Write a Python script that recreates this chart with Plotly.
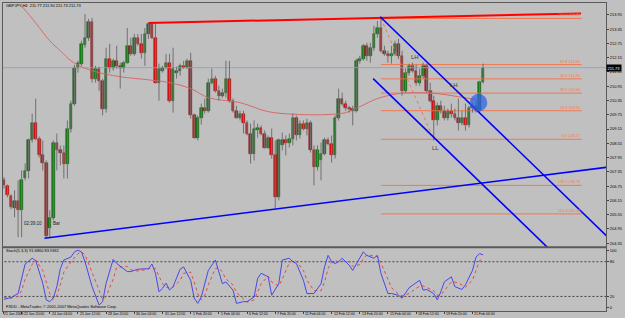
import plotly.graph_objects as go

# ---------------- data (GBPJPY H4) ----------------
opens = [206.99, 206.74, 206.32, 205.82, 206.11, 205.73, 207.07, 207.37, 208.67, 209.42,
         208.75, 208.04, 207.74, 204.97, 205.40, 208.58, 208.25, 208.16, 207.70, 209.17,
         210.22, 211.73, 211.90, 212.69, 212.99, 213.66, 211.25, 211.69, 211.18, 210.01,
         212.11, 211.73, 212.02, 211.81, 211.73, 211.94, 212.65, 212.31, 212.99, 212.73,
         212.36, 213.15, 213.57, 212.99, 211.10, 211.60, 211.73, 211.94, 210.34, 211.52,
         211.60, 211.81, 211.73, 212.02, 209.72, 208.79, 209.63, 210.05, 209.92, 211.10,
         211.27, 210.76, 210.55, 210.68, 211.27, 210.34, 209.92, 209.63, 209.80, 209.42,
         208.96, 208.12, 209.09, 209.21, 208.96, 208.37, 208.79, 208.04, 206.28, 208.46,
         208.67, 208.58, 208.75, 209.63, 208.88, 209.38, 209.17, 209.42, 208.25, 207.54,
         207.83, 208.12, 208.67, 208.54, 208.04, 209.63, 210.43, 210.22, 210.05, 210.01,
         209.92, 212.02, 212.11, 212.65, 212.23, 212.57, 213.15, 213.40, 212.44, 212.31,
         212.23, 212.31, 212.73, 212.23, 210.76, 211.52, 211.81, 211.60, 211.10, 211.39,
         211.81, 210.76, 210.34, 209.51, 210.13, 209.92, 209.63, 209.92, 209.80, 209.63,
         209.42, 209.63, 209.30, 210.05, 210.13, 209.92, 211.14]
highs = [207.12, 206.82, 206.40, 206.57, 206.99, 207.41, 207.70, 208.75, 209.80, 210.43,
         208.84, 208.67, 207.83, 205.73, 208.67, 208.96, 208.46, 208.46, 209.51, 210.34,
         211.85, 212.02, 212.86, 213.99, 213.78, 213.82, 211.81, 211.77, 211.27, 212.57,
         212.73, 212.11, 212.65, 211.94, 212.02, 213.40, 212.99, 213.15, 213.15, 213.15,
         213.40, 213.61, 213.66, 213.57, 211.90, 211.81, 212.31, 212.31, 212.57, 211.77,
         211.90, 212.02, 212.11, 212.36, 209.80, 209.72, 210.22, 210.43, 211.27, 211.69,
         211.39, 210.97, 210.85, 212.02, 212.02, 210.43, 210.13, 209.92, 209.92, 209.51,
         209.38, 209.51, 209.38, 209.30, 209.09, 208.88, 209.17, 208.67, 208.75, 209.00,
         208.88, 208.96, 209.80, 209.72, 209.51, 209.51, 209.59, 209.51, 208.46, 208.46,
         208.58, 208.79, 208.79, 208.88, 209.72, 210.85, 210.68, 210.34, 210.13, 210.13,
         212.11, 212.23, 212.73, 212.78, 212.78, 213.49, 213.70, 213.87, 212.65, 212.44,
         212.65, 212.86, 212.94, 212.44, 211.69, 211.90, 211.94, 211.85, 211.69, 211.94,
         211.90, 211.10, 210.55, 210.26, 210.34, 210.13, 210.01, 210.22, 210.01, 210.43,
         209.92, 210.22, 210.13, 210.26, 210.34, 211.18, 211.90]
lows = [206.65, 206.28, 205.77, 205.44, 204.60, 204.60, 206.99, 207.07, 208.58, 208.67,
        207.95, 207.41, 204.56, 204.56, 205.31, 207.41, 207.62, 207.07, 207.07, 209.00,
        210.13, 211.52, 211.81, 212.57, 212.86, 211.10, 211.10, 210.76, 209.72, 209.84,
        211.52, 211.60, 211.69, 210.85, 211.52, 211.90, 212.23, 212.23, 212.65, 212.11,
        211.81, 212.94, 212.94, 211.06, 210.34, 211.52, 211.69, 210.26, 209.84, 211.27,
        211.39, 211.69, 211.69, 209.59, 208.75, 208.67, 209.34, 209.80, 209.84, 211.02,
        210.68, 210.34, 210.47, 210.47, 210.26, 209.84, 209.59, 209.51, 208.96, 208.88,
        207.70, 207.83, 208.79, 208.88, 208.33, 208.33, 207.91, 205.82, 206.15, 208.25,
        208.04, 208.37, 208.46, 208.67, 208.75, 209.09, 208.88, 208.16, 206.78, 207.41,
        206.99, 208.04, 208.46, 207.74, 207.91, 209.51, 210.13, 209.92, 209.84, 209.30,
        209.84, 211.90, 212.02, 212.02, 211.94, 212.44, 212.99, 212.36, 212.23, 211.94,
        211.90, 212.23, 212.11, 210.55, 210.68, 211.39, 211.52, 210.97, 210.97, 211.27,
        210.68, 210.26, 208.67, 209.30, 209.80, 209.51, 209.51, 209.63, 209.51, 209.09,
        209.30, 209.09, 209.21, 209.84, 209.84, 209.84, 211.06]
closes = [206.78, 206.36, 205.86, 206.11, 205.73, 206.99, 207.37, 208.67, 209.42, 208.75,
          208.04, 207.74, 204.64, 205.40, 208.58, 208.25, 208.16, 207.70, 209.17, 210.22,
          211.73, 211.94, 212.73, 212.99, 213.66, 211.25, 211.69, 211.18, 210.01, 212.11,
          211.73, 212.02, 211.81, 211.73, 211.94, 212.65, 212.31, 212.99, 212.73, 212.36,
          213.15, 213.57, 212.99, 211.10, 211.69, 211.73, 211.94, 210.34, 211.69, 211.60,
          211.81, 211.73, 212.02, 209.72, 208.79, 209.63, 210.05, 209.92, 211.10, 211.27,
          210.76, 210.55, 210.68, 211.27, 210.34, 209.92, 209.63, 209.80, 209.42, 208.96,
          208.12, 209.17, 209.21, 208.96, 208.37, 208.79, 208.04, 206.28, 208.67, 208.67,
          208.58, 208.75, 209.63, 208.88, 209.38, 209.17, 209.42, 208.25, 207.54, 208.25,
          208.12, 208.67, 208.54, 208.04, 209.63, 210.43, 210.22, 210.05, 210.01, 209.92,
          212.02, 212.11, 212.65, 212.23, 212.57, 213.15, 213.40, 212.44, 212.31, 212.23,
          212.31, 212.73, 212.23, 210.76, 211.52, 211.81, 211.60, 211.10, 211.39, 211.81,
          210.76, 210.34, 209.51, 210.13, 209.92, 209.63, 209.92, 209.80, 209.63, 209.42,
          209.63, 209.30, 210.05, 210.13, 209.92, 211.14, 211.73]

# moving average (read at selected bars)
ma_bars = [5, 9, 13, 16, 19, 22, 26, 33, 41, 47, 53, 58, 67, 75, 84, 92, 97, 101, 106, 112, 118, 123, 129, 136]
ma_vals = [214.33, 213.61, 212.86, 212.44, 212.02, 211.77, 211.56, 211.35, 211.22, 211.10, 210.85, 210.47,
           210.26, 209.88, 209.76, 209.76, 209.84, 210.09, 210.43, 210.64, 210.68, 210.64, 210.51, 210.34]

# stochastic main line
st_bars = [0, 2, 4, 5, 6, 8, 9, 11, 12, 13, 14, 15, 16, 17, 19, 20, 21, 22, 23, 25, 27, 28, 29, 31, 32, 35, 36,
           38, 41, 42, 43, 44, 45, 46, 47, 48, 50, 51, 53, 54, 55, 56, 57, 58, 60, 61, 62, 63, 65, 66, 68, 69,
           71, 72, 73, 75, 76, 78, 79, 81, 82, 83, 85, 86, 88, 90, 91, 92, 93, 94, 95, 96, 98, 99, 101, 102,
           103, 105, 106, 107, 109, 110, 112, 113, 115, 118, 119, 120, 122, 123, 124, 125, 127, 128, 130,
           131, 133, 134, 135, 136]
st_main = [15, 18, 25, 48, 76, 86, 82, 43, 14, 11, 17, 37, 68, 83, 88, 97, 100, 97, 80, 37, 5, 11, 43, 84, 77,
           63, 63, 67, 68, 76, 60, 28, 34, 43, 31, 37, 67, 71, 48, 17, 8, 19, 42, 65, 83, 63, 42, 45, 31, 8,
           11, 11, 19, 51, 60, 54, 22, 42, 83, 86, 80, 77, 48, 25, 25, 42, 71, 91, 80, 77, 80, 86, 74, 65,
           86, 97, 91, 86, 91, 60, 25, 25, 22, 17, 35, 48, 31, 32, 25, 14, 28, 45, 54, 37, 32, 40, 65, 88,
           94, 92]
st_signal = [18, 17, 20, 30, 50, 75, 83, 65, 45, 25, 15, 22, 40, 62, 80, 88, 94, 97, 92, 62, 30, 15, 20, 50,
             70, 72, 66, 64, 67, 70, 68, 55, 42, 36, 35, 36, 48, 60, 62, 45, 25, 14, 22, 40, 68, 70, 62, 50,
             40, 27, 15, 10, 14, 28, 42, 55, 45, 38, 50, 78, 83, 81, 65, 48, 30, 30, 45, 68, 80, 82, 80, 81,
             80, 72, 75, 85, 92, 90, 89, 78, 48, 35, 24, 21, 25, 38, 38, 35, 30, 22, 22, 30, 45, 45, 40, 36,
             48, 65, 82, 84]

# drawn objects (bar index, price)
red_line_x = [41, 163.8]
red_line_y = [213.61, 214.01]
support_x = [11.5, 172]
support_y = [204.56, 207.56]
chan_up_x = [106.8, 172]
chan_up_y = [213.87, 204.52]
chan_lo_x = [104.8, 158]
chan_lo_y = [211.27, 203.64]
fib_diag_x = [107, 122]
fib_diag_y = [213.80, 208.72]
fib_levels = [213.80, 211.86, 211.26, 210.66, 209.92, 208.72, 206.78, 205.58]
fib_names = ["100.0", "61.8", "50.0", "38.2", "23.6", "0.0", "138.2", "161.8"]
fib_from, fib_to = 107, 164
current_price = 211.73
marker_bar, marker_price = 134.7, 210.26
wave_labels = ["LH", "LH", "LL"]
wave_bars = [116.7, 127.7, 122.6]
wave_prices = [212.2, 211.02, 208.37]

price_ticks = [213.95, 213.35, 212.75, 212.15, 211.55, 210.95, 210.35, 209.75, 209.15,
               208.55, 207.95, 207.35, 206.75, 206.15, 205.55, 204.95, 204.35]
stoch_ticks = [100, 80, 20, 0]
date_bars = [0, 5, 13, 21, 29, 37, 45, 53, 61, 69, 77, 85, 93, 101, 109, 117, 125, 133]
date_labels = ["21 Jan 2008", "22 Jan 20:00", "24 Jan 04:00", "25 Jan 12:00", "28 Jan 20:00",
               "30 Jan 04:00", "31 Jan 12:00", "1 Feb 20:00", "5 Feb 04:00", "6 Feb 12:00",
               "7 Feb 20:00", "11 Feb 04:00", "12 Feb 12:00", "13 Feb 20:00", "15 Feb 04:00",
               "18 Feb 12:00", "19 Feb 20:00", "21 Feb 04:00"]

# ---------------- figure ----------------
FONT = "Liberation Sans"
BG = "#c0c0c0"
SALMON = "#f07850"
bars = list(range(len(opens)))

fig = go.Figure()

# current price line
fig.add_trace(go.Scatter(x=[-1, 175], y=[current_price, current_price], mode="lines",
                         line=dict(color="#93a4c8", width=1), hoverinfo="skip"))

# fib levels
for lv in fib_levels:
    fig.add_trace(go.Scatter(x=[fib_from, fib_to], y=[lv, lv], mode="lines",
                             line=dict(color=SALMON, width=1), hoverinfo="skip"))
fig.add_trace(go.Scatter(x=fib_diag_x, y=fib_diag_y, mode="lines",
                         line=dict(color=SALMON, width=1, dash="dot"), hoverinfo="skip"))

# moving average
fig.add_trace(go.Scatter(x=ma_bars, y=ma_vals, mode="lines", line=dict(color="#d86a6a", width=1, shape="spline"),
                         hoverinfo="skip"))

# wicks
wx, wy = [], []
for i in bars:
    wx += [i, i, None]
    wy += [lows[i], highs[i], None]
fig.add_trace(go.Scatter(x=wx, y=wy, mode="lines", line=dict(color="#707070", width=1), hoverinfo="skip"))

# bodies
up = [i for i in bars if closes[i] >= opens[i]]
dn = [i for i in bars if closes[i] < opens[i]]
fig.add_trace(go.Bar(x=up, y=[max(closes[i] - opens[i], 0.03) for i in up], base=[opens[i] for i in up],
                     width=0.75, marker=dict(color="#0b8a0b", line=dict(color="#1d3d1d", width=0.5))))
fig.add_trace(go.Bar(x=dn, y=[max(opens[i] - closes[i], 0.03) for i in dn], base=[closes[i] for i in dn],
                     width=0.75, marker=dict(color="#e80c0c", line=dict(color="#6a1a1a", width=0.5))))

# trend lines
fig.add_trace(go.Scatter(x=red_line_x, y=red_line_y, mode="lines", line=dict(color="#ff0000", width=2),
                         hoverinfo="skip"))
for lx, ly in [(support_x, support_y), (chan_up_x, chan_up_y), (chan_lo_x, chan_lo_y)]:
    fig.add_trace(go.Scatter(x=lx, y=ly, mode="lines", line=dict(color="#0000ff", width=1.6), hoverinfo="skip"))

# stochastic
for lv in [80, 20]:
    fig.add_trace(go.Scatter(x=[-1, 175], y=[lv, lv], mode="lines", xaxis="x2", yaxis="y2",
                             line=dict(color="#404040", width=1, dash="2px,2px"), hoverinfo="skip"))
fig.add_trace(go.Scatter(x=st_bars, y=st_signal, mode="lines", xaxis="x2", yaxis="y2",
                         line=dict(color="#e04a4a", width=1, dash="dot"), hoverinfo="skip"))
fig.add_trace(go.Scatter(x=st_bars, y=st_main, mode="lines", xaxis="x2", yaxis="y2",
                         line=dict(color="#4848e8", width=1), hoverinfo="skip"))

# circle marker
dxr, dyr = 2.5, 0.37
fig.add_shape(type="circle", xref="x", yref="y", x0=marker_bar - dxr, x1=marker_bar + dxr,
              y0=marker_price - dyr, y1=marker_price + dyr,
              fillcolor="rgba(40,95,235,0.72)", line=dict(width=0))

# separator between panels
fig.add_shape(type="line", xref="paper", yref="paper", x0=0, x1=1, y0=0.2071, y1=0.2071,
              line=dict(color="#5a5a5a", width=2))

ann = []
tf = dict(family=FONT, size=4, color="#000000")
df = dict(family=FONT, size=3.5, color="#000000")
ann.append(dict(xref="paper", yref="paper", x=0.0017, y=0.992, xanchor="left", yanchor="middle",
                text="GBPJPY,H4  211.77 211.90 211.73 211.73", showarrow=False, font=tf))
ann.append(dict(xref="paper", yref="paper", x=0.0017, y=0.1958, xanchor="left", yanchor="middle",
                text="Stoch(5,3,3) 91.6860 83.9361", showarrow=False, font=tf))
ann.append(dict(xref="paper", yref="paper", x=0.0017, y=0.0162, xanchor="left", yanchor="middle",
                text="FXDD - MetaTrader, © 2001-2007 MetaQuotes Software Corp.", showarrow=False, font=tf))
ann.append(dict(xref="x", yref="y", x=5, y=205.19, xanchor="left", yanchor="middle",
                text="02:39:10", showarrow=False, font=dict(family=FONT, size=4.5, color="#202020")))
ann.append(dict(xref="x", yref="y", x=13.3, y=205.19, xanchor="left", yanchor="middle",
                text="Bar", showarrow=False, font=dict(family=FONT, size=4.5, color="#202020")))
for t, bx, py in zip(wave_labels, wave_bars, wave_prices):
    ann.append(dict(xref="x", yref="y", x=bx, y=py, xanchor="center", yanchor="middle", text=t,
                    showarrow=False, font=dict(family=FONT, size=6, color="#383838")))
for nm, lv in zip(fib_names, fib_levels):
    ann.append(dict(xref="x", yref="y", x=fib_to, y=lv, xanchor="right", yanchor="bottom",
                    text=f"{nm} {lv:.2f}", showarrow=False, yshift=-1,
                    font=dict(family=FONT, size=3.8, color=SALMON)))
for b, lab in zip(date_bars, date_labels):
    ann.append(dict(xref="x2", yref="paper", x=b, y=-0.0113, xanchor="left", yanchor="middle",
                    text=lab, showarrow=False, xshift=-2 if b == 0 else 0, font=df))
ann.append(dict(xref="paper", yref="y", x=1.0, y=current_price, xanchor="left", yanchor="middle",
                text=f"{current_price:.2f}", showarrow=False, bgcolor="#000000", borderpad=0.5,
                font=dict(family=FONT, size=4, color="#ffffff")))

fig.update_layout(
    width=625, height=318,
    margin=dict(l=2, r=17, t=2, b=7),
    paper_bgcolor=BG, plot_bgcolor=BG,
    showlegend=False, barmode="overlay", bargap=0,
    annotations=ann,
    xaxis=dict(domain=[0, 1], anchor="y", range=[-0.28, 170.9], showticklabels=False, showgrid=False,
               zeroline=False, showline=True, linecolor="#5a5a5a", linewidth=1, mirror=True, ticks=""),
    yaxis=dict(domain=[0.2071, 1], anchor="x", range=[204.18, 214.45], side="right",
               tickvals=price_ticks, ticktext=[f"{v:.2f}" for v in price_ticks],
               tickfont=dict(family=FONT, size=4, color="#000000"), ticks="outside", ticklen=2,
               tickcolor="#404040", showgrid=False, zeroline=False, showline=True,
               linecolor="#5a5a5a", mirror=True),
    xaxis2=dict(domain=[0, 1], anchor="y2", matches="x", showticklabels=False, showgrid=False,
                zeroline=False, showline=True, linecolor="#5a5a5a", linewidth=1, mirror=True,
                ticks="outside", tickvals=date_bars, ticklen=2, tickcolor="#404040"),
    yaxis2=dict(domain=[0, 0.2039], anchor="x2", range=[-5.2, 103.4], side="right",
                tickvals=stoch_ticks, tickfont=dict(family=FONT, size=4, color="#000000"),
                ticks="outside", ticklen=2, tickcolor="#404040", showgrid=False, zeroline=False,
                showline=True, linecolor="#5a5a5a", mirror=True),
)

fig.write_html("out.html")
